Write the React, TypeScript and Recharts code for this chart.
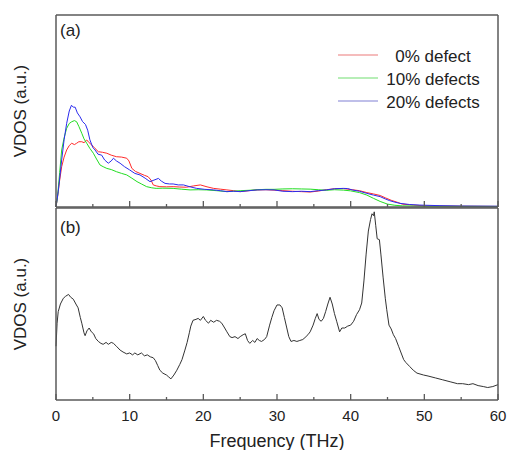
import React from 'react';
import { LineChart, Line, XAxis, YAxis } from 'recharts';

// ---- Panel (a): VDOS for defect concentrations ----
const freq0 = [0, 0.2, 0.5, 0.77, 1.1, 1.45, 1.8, 2.13, 2.5, 2.8, 3.1, 3.5, 3.8, 4.17, 4.5, 4.85, 5.3, 5.75, 6.3, 6.9, 7.5, 8.2, 8.9, 9.6, 9.9, 10.3, 10.8, 11.4, 12.0, 12.5, 12.9, 13.2, 13.6, 14.1, 15.0, 15.9, 16.8, 17.7, 18.7, 19.6, 20.5, 21.4, 22.3, 23.2, 24.1, 25.0, 26.2, 27.3, 28.5, 29.6, 30.8, 32.1, 33.3, 34.5, 35.6, 36.7, 37.8, 39.0, 40.2, 41.2, 42.2, 43.1, 44.0, 44.7, 45.5, 46.3, 47.0, 48.5, 50, 55, 60];
const vdos0 = [0, 5, 14, 21, 26, 29.7, 32, 33.2, 32.5, 33.2, 34, 34, 33.5, 34.9, 33.5, 32.3, 30.5, 28.8, 28.5, 28, 27, 26.2, 26, 25.4, 24, 20.1, 18.5, 17.5, 16.5, 15.8, 14, 11.5, 11, 10.6, 10.5, 10.6, 10.4, 10.3, 11, 11.5, 10.5, 9.7, 9.3, 8.9, 8.5, 8, 8.5, 8.9, 9, 8.8, 8.5, 8.2, 8, 7.8, 8.3, 9, 9.5, 9.6, 9, 8.5, 7.5, 6.8, 6, 4.8, 3.5, 2.5, 1.5, 1.0, 0.6, 0.4, 0.3];

const freq10 = [0, 0.2, 0.5, 0.77, 1.1, 1.45, 1.8, 2.13, 2.5, 2.8, 3.1, 3.5, 3.8, 4.17, 4.6, 5.07, 5.5, 5.97, 6.4, 6.9, 7.5, 8.2, 8.9, 9.6, 10.3, 11.0, 11.6, 12.3, 13.0, 13.6, 14.5, 15.9, 17.0, 18.2, 19.3, 20.4, 21.8, 23.2, 24.1, 25.0, 26.2, 27.3, 28.5, 29.6, 30.8, 32.1, 33.3, 34.5, 35.6, 36.7, 37.8, 39.0, 40.0, 41.2, 42.2, 43.1, 44.0, 45.0, 46.0, 47.0, 50, 60];
const vdos10 = [0, 5, 18, 29.7, 36, 41, 43.5, 44.4, 45, 44.4, 42, 38.4, 35.5, 33.2, 30.5, 28, 25, 21.9, 21, 20.1, 19.5, 18.4, 17.5, 16.7, 15, 13.2, 12, 10.6, 10, 9.7, 9.8, 9.7, 9.3, 8.9, 9, 8.9, 8.5, 8, 8.2, 8.5, 8.7, 9, 9.2, 9.2, 9.4, 9.5, 9.4, 9.3, 9, 8.7, 9, 8.8, 8.4, 7.5, 6.2, 4.5, 2.9, 1.5, 0.9, 0.6, 0.4, 0.3];

const freq20 = [0, 0.3, 0.77, 1.1, 1.45, 1.8, 2.1, 2.35, 2.6, 2.9, 3.26, 3.6, 4.0, 4.3, 4.6, 5.0, 5.3, 5.7, 6.2, 6.6, 7.1, 7.5, 7.8, 8.2, 8.7, 9.3, 10.0, 10.7, 11.4, 12.1, 12.76, 13.3, 13.9, 14.3, 14.8, 15.4, 15.9, 16.6, 17.3, 18.2, 19.1, 20.2, 21.4, 22.3, 23.2, 24.1, 25.0, 26.2, 27.3, 28.5, 29.6, 30.8, 32.1, 33.3, 34.5, 35.6, 36.7, 37.8, 39.0, 39.6, 40.2, 41.2, 42.2, 43.1, 44.0, 44.7, 45.3, 46.0, 46.7, 48.0, 49.4, 52, 55, 60];
const vdos20 = [0, 8, 24.5, 35, 43.6, 50, 53, 52, 52, 49, 47, 44.5, 43, 40, 35, 31, 29.7, 27.5, 27, 24.5, 22.8, 24, 25.4, 24, 22.8, 21, 19.3, 17.5, 16.7, 15, 13.2, 14, 14.9, 13.5, 12.3, 12, 12, 11.5, 11.5, 10.5, 9.7, 9.2, 8.9, 8.5, 8, 8.2, 8, 8.5, 8.9, 9, 8.9, 8.2, 8, 8.2, 8, 8.5, 8.9, 9.5, 9.7, 9.6, 8.9, 8.2, 7.1, 6.2, 5.4, 4.2, 3.3, 2.5, 1.9, 1.3, 1.0, 0.7, 0.5, 0.4];

// ---- Panel (b): single VDOS curve ----
const freqB = [0.0, 0.15, 0.3, 0.6, 1.0, 1.3, 1.7, 2.0, 2.35, 2.7, 3.0, 3.3, 3.5, 3.8, 3.95, 4.2, 4.5, 4.8, 5.1, 5.4, 5.75, 6.1, 6.4, 6.8, 7.1, 7.5, 7.8, 8.2, 8.7, 9.1, 9.6, 10.0, 10.4, 10.7, 11.1, 11.6, 12.0, 12.4, 12.8, 13.2, 13.5, 13.8, 14.1, 14.5, 15.0, 15.3, 15.6, 16.0, 16.4, 16.8, 17.1, 17.5, 17.8, 18.1, 18.3, 18.6, 19.0, 19.3, 19.6, 20.0, 20.3, 20.7, 21.0, 21.4, 21.8, 22.2, 22.5, 22.9, 23.2, 23.6, 23.9, 24.3, 24.7, 25.0, 25.4, 25.7, 26.0, 26.3, 26.7, 27.0, 27.3, 27.6, 27.9, 28.3, 28.6, 29.0, 29.3, 29.6, 30.0, 30.4, 30.7, 31.0, 31.3, 31.6, 31.9, 32.3, 32.7, 33.1, 33.5, 33.8, 34.2, 34.5, 34.9, 35.2, 35.45, 35.7, 36.0, 36.3, 36.6, 36.9, 37.2, 37.5, 37.8, 38.1, 38.5, 38.8, 39.2, 39.6, 40.0, 40.4, 40.8, 41.2, 41.5, 41.8, 42.1, 42.4, 42.7, 42.9, 43.1, 43.2, 43.4, 43.6, 43.9, 44.1, 44.4, 44.7, 44.9, 45.2, 45.5, 45.8, 46.1, 46.5, 46.8, 47.2, 47.5, 48.0, 48.5, 49.0, 49.9, 50.5, 51.5, 52.5, 53.5, 54.5, 55.2, 56.0, 56.6, 57.3, 58.0, 58.6, 59.3, 60.0];
const vdosB = [28, 40, 46, 50, 53, 54, 55, 53.5, 52.5, 50, 48, 43, 40, 35, 33.5, 36, 37.5, 35.5, 34.5, 32, 30.5, 29.5, 29, 30, 29, 30, 29.5, 28, 26, 25, 24, 24.5, 23.5, 24.5, 23.5, 24.5, 23, 23.5, 22.5, 22, 20.5, 18, 15.5, 14, 13, 12, 11, 13, 15.5, 18.5, 21, 26, 30, 35, 38.5, 41.5, 42, 42.5, 41.5, 43.5, 41.5, 40, 41.5, 40.5, 41.5, 41, 40, 37.5, 35.5, 33, 32.5, 33, 32, 33, 34, 34.5, 31, 29.5, 31, 30, 32, 31, 30.5, 31.5, 33, 39, 43, 46.5, 49.5, 49.5, 48, 43, 38, 33, 30.5, 31, 30.5, 31, 31.5, 32.5, 34, 35.5, 39, 42.5, 45, 42, 41, 42.5, 46, 50, 53.5, 50, 45, 41, 35.5, 37.5, 37.5, 38.5, 39, 41, 44.5, 47, 50.5, 62, 76, 88, 94, 97, 96, 98, 91, 84, 83.5, 76, 64, 53, 47, 39, 37, 34, 32, 28, 25, 21, 19.5, 17.5, 15.5, 14, 13, 12.5, 11.5, 10.5, 9.5, 8.5, 8.5, 8, 8.5, 7.5, 7, 6.5, 7, 8];

const xTicks = [0, 5, 10, 15, 20, 25, 30, 35, 40, 45, 50, 55, 60];
const seriesNames = ['0% defect', '10% defects', '20% defects'];

const AXIS = '#5a5a5a';
const FONT = '"Liberation Sans", Arial, sans-serif';
const COLORS = ['#ff2b2b', '#22dd22', '#2b2bee'];
const LEGEND_COLORS = ['#f2a6a6', '#9fe89f', '#aaaae2'];

const zip = (xs: number[], ys: number[]) => xs.map((f, i) => ({ f, v: ys[i] }));

const makeTick = (showLabel: boolean) => (props: any) => {
  const { x, y, payload } = props;
  const v = payload.value as number;
  const major = v % 10 === 0;
  return (
    <g>
      <line x1={x} x2={x} y1={y} y2={y - (major ? 6 : 3)} stroke={AXIS} strokeWidth={1.3} />
      {showLabel && major && (
        <text x={x} y={y + 15} textAnchor="middle" dominantBaseline="central" fontSize={15} fill="#222" fontFamily={FONT}>
          {v}
        </text>
      )}
    </g>
  );
};

const yLabel = {
  value: 'VDOS (a.u.)',
  angle: -90,
  position: 'insideLeft' as const,
  offset: 20,
  style: { textAnchor: 'middle', fontSize: 17, fill: '#222', fontFamily: FONT },
};

const axisLine = { stroke: AXIS, strokeWidth: 1.5 };

export default function App() {
  return (
    <div style={{ position: 'relative', width: 508, height: 450, fontFamily: FONT }}>
      <style>{'body{margin:0}'}</style>
      <div style={{ position: 'absolute', left: 0, top: 0 }}>
        <LineChart width={508} height={208} margin={{ top: 14, right: 9, bottom: 0, left: 0 }}>
          <XAxis xAxisId="t" orientation="top" type="number" dataKey="f" domain={[0, 60]} height={1} tick={false} tickLine={false} axisLine={axisLine} />
          <XAxis type="number" dataKey="f" domain={[0, 60]} ticks={xTicks} interval={0} height={1} tickSize={0} tickMargin={0} tickLine={false} tick={makeTick(false)} axisLine={axisLine} />
          <YAxis type="number" domain={[0, 100]} width={56} tick={false} tickLine={false} axisLine={axisLine} label={yLabel} />
          <YAxis yAxisId="r" orientation="right" type="number" domain={[0, 100]} width={1} tick={false} tickLine={false} axisLine={axisLine} />
          <Line data={zip(freq0, vdos0)} dataKey="v" type="linear" stroke={COLORS[0]} strokeWidth={1} dot={false} isAnimationActive={false} />
          <Line data={zip(freq10, vdos10)} dataKey="v" type="linear" stroke={COLORS[1]} strokeWidth={1} dot={false} isAnimationActive={false} />
          <Line data={zip(freq20, vdos20)} dataKey="v" type="linear" stroke={COLORS[2]} strokeWidth={1} dot={false} isAnimationActive={false} />
        </LineChart>
      </div>
      <div style={{ position: 'absolute', left: 0, top: 207 }}>
        <LineChart width={508} height={243} margin={{ top: 0, right: 9, bottom: 0, left: 0 }}>
          <XAxis xAxisId="t" orientation="top" type="number" dataKey="f" domain={[0, 60]} height={1} tick={false} tickLine={false} axisLine={axisLine} />
          <XAxis type="number" dataKey="f" domain={[0, 60]} ticks={xTicks} interval={0} height={50} tickSize={0} tickMargin={0} tickLine={false} tick={makeTick(true)} axisLine={axisLine}
            label={{ value: 'Frequency (THz)', position: 'insideTop', offset: 34, style: { fontSize: 18, fill: '#222', fontFamily: FONT } }} />
          <YAxis type="number" domain={[0, 100]} width={56} tick={false} tickLine={false} axisLine={axisLine} label={yLabel} />
          <YAxis yAxisId="r" orientation="right" type="number" domain={[0, 100]} width={1} tick={false} tickLine={false} axisLine={axisLine} />
          <Line data={zip(freqB, vdosB)} dataKey="v" type="linear" stroke="#333" strokeWidth={1} dot={false} isAnimationActive={false} />
        </LineChart>
      </div>
      <svg width={508} height={450} style={{ position: 'absolute', left: 0, top: 0, pointerEvents: 'none' }}>
        <text x={60} y={30} dominantBaseline="central" fontSize={17} fill="#222" fontFamily={FONT}>(a)</text>
        <text x={60} y={227} dominantBaseline="central" fontSize={17} fill="#222" fontFamily={FONT}>(b)</text>
        {seriesNames.map((name, i) => (
          <g key={name}>
            <line x1={338} x2={378} y1={55 + i * 23} y2={55 + i * 23} stroke={LEGEND_COLORS[i]} strokeWidth={1.5} />
            <text x={433} y={56 + i * 23} textAnchor="middle" dominantBaseline="central" fontSize={17} fill="#222" fontFamily={FONT}>{name}</text>
          </g>
        ))}
      </svg>
    </div>
  );
}
